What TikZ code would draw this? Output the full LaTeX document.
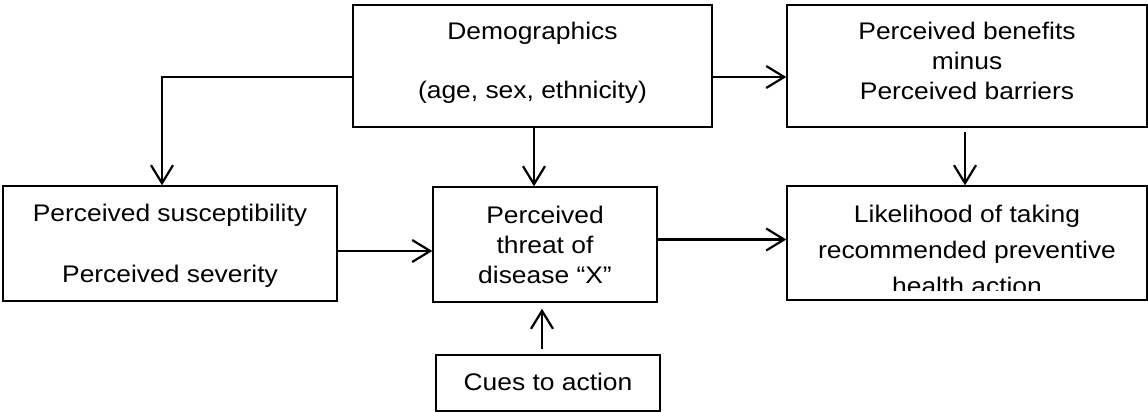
\documentclass[tikz,border=0pt]{standalone}
\usepackage{fontspec}
\setmainfont{Liberation Sans}[FakeStretch=1.1]
\usetikzlibrary{arrows.meta}
\usetikzlibrary{calc}

\begin{document}
\begin{tikzpicture}[x=1pt,y=-1pt,
	box/.style={draw, line width=1.4pt, inner sep=0pt, align=center, font=\fontsize{24}{30}\selectfont},
	>={Straight Barb[length=18pt,width=22pt]}]
	\useasboundingbox (0,0) rectangle (1148,412);
	% top row
	\node[box, minimum width=359pt, minimum height=122pt, text depth=10.5pt] (demo) at (532.5,66) {Demographics\\[29pt](age, sex, ethnicity)};
	\node[box, minimum width=360pt, minimum height=122pt, text depth=9.5pt] (benefits) at (967,66) {Perceived benefits\\minus\\Perceived barriers};
	% middle row
	\node[box, minimum width=334pt, minimum height=115pt, text depth=0pt] (suscept) at (170,243.5) {Perceived susceptibility\\[31pt]Perceived severity};
	\node[box, minimum width=224pt, minimum height=115pt] (threat) at (545,244.5) {Perceived\\threat of\\disease “X”};
	\node[box, minimum width=360pt, minimum height=114pt] (likely) at (967,243) {};
	\begin{scope}
		\clip (787,186) rectangle (1147,290);
		\node[box, draw=none, anchor=north, font=\fontsize{24}{36}\selectfont] (likelytext) at (967,204.8) {Likelihood of taking\\recommended preventive\\health action};
	\end{scope}
	% bottom
	\node[box, minimum width=224pt, minimum height=56pt, text depth=3pt] (cues) at (548,383) {Cues to action};

	%\path[->,font=\scriptsize]
	\draw[->, line width=2.2pt] ([yshift=-11pt]demo.west) -| ([xshift=-8pt]suscept.north);
	\path[->, line width=2.2pt]
	([yshift=-11pt]demo.east) edge ([yshift=-11pt]demo.east -| benefits.west)
	([xshift=1.5pt]demo.south) edge ([xshift=1.5pt]demo.south |- threat.north)
	([xshift=-2pt]benefits.south) edge[shorten <=4pt] ([xshift=-2pt]benefits.south |- likely.north)
	([yshift=-7.5pt]suscept.east) edge ([yshift=-7.5pt]suscept.east -| threat.west)
	([yshift=5pt]threat.east) edge ([yshift=5pt]threat.east -| likely.west)
	([xshift=-6pt]cues.north) edge[shorten <=5pt, shorten >=6pt] ([xshift=-6pt]cues.north |- threat.south)
	;
\end{tikzpicture}
\end{document}
